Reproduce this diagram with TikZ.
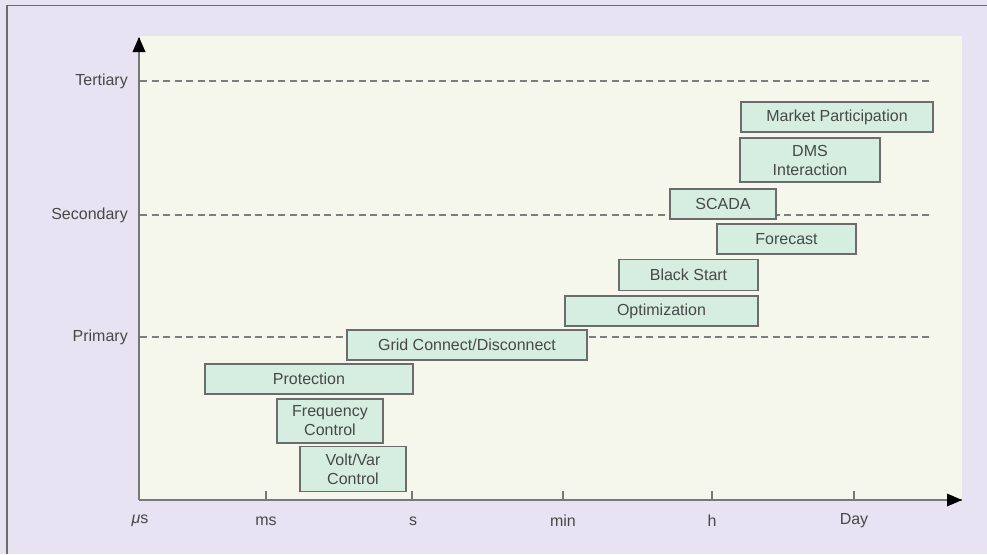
\documentclass[tikz,border=0pt]{standalone}
\usepackage{fontspec}
\setmainfont{Liberation Sans}
\usetikzlibrary{arrows.meta}
\definecolor{bgl}{RGB}{231,227,243}
\definecolor{panel}{RGB}{246,247,236}
\definecolor{mint}{RGB}{214,238,224}
\definecolor{bord}{RGB}{108,108,108}
\definecolor{txt}{RGB}{72,72,72}
\definecolor{axisc}{RGB}{120,120,120}
\definecolor{dashc}{RGB}{125,125,125}
\tikzset{
  box/.style={draw=bord, line width=1.5pt, fill=mint, inner sep=0pt, text=txt,
    font=\fontsize{16pt}{19pt}\selectfont, align=center},
  lvl/.style={text=txt, font=\fontsize{16pt}{19pt}\selectfont, anchor=east, inner sep=0pt},
  tlab/.style={text=txt, font=\fontsize{16pt}{19pt}\selectfont, anchor=center, inner sep=0pt},
  dashline/.style={dashc, line width=1.2pt, dash pattern=on 7pt off 4.5pt},
  axisline/.style={axisc, line width=1.5pt},
  tickline/.style={axisc, line width=1.3pt}
}
\begin{document}
\begin{tikzpicture}[x=1pt,y=-1pt]
\useasboundingbox (0,0) rectangle (987,554);
\fill[bgl] (0,0) rectangle (987,554);
\draw[bord, line width=1.6pt] (7,554) -- (7,5.5) -- (987,5.5);
\fill[panel] (140,36) rectangle (962,500);

% dashed level lines
\coordinate (t0) at (140,81);  \coordinate (t1) at (932,81);
\coordinate (s0) at (140,215); \coordinate (s1) at (932,215);
\coordinate (p0) at (140,337); \coordinate (p1) at (932,337);
\draw[dashline] (t0) -- (t1);
\draw[dashline] (s0) -- (s1);
\draw[dashline] (p0) -- (p1);
\node[lvl] (tert) at (128,81) {Tertiary};
\node[lvl] (sec) at (128,215) {Secondary};
\node[lvl] (prim) at (128,337) {Primary};

% axes
\coordinate (origin) at (139,500);
\coordinate (ytop) at (139,38);
\coordinate (xend) at (962,500);
\draw[axisline] (origin) -- (ytop);
\draw[axisline] (origin) -- (xend);
\fill[black] (139,37) -- (132.5,52) -- (145.5,52) -- cycle;
\fill[black] (962,500) -- (947,493.5) -- (947,506.5) -- cycle;

% ticks
\foreach \x/\n in {266/ms,412/s,563/min,712/h,854/day}{
  \coordinate (tk\n) at (\x,500);
  \draw[tickline] (tk\n) -- ++(0,-9);
}
\node[tlab] (lus) at (140,521) {{\itshape μ}s};
\node[tlab] (lms) at (266,521) {ms};
\node[tlab] (ls) at (413,521) {s};
\node[tlab] (lmin) at (563,521) {min};
\node[tlab] (lh) at (712,521) {h};
\node[tlab] (lday) at (854,521) {Day};

% boxes
\node[box, minimum width=192pt, minimum height=30pt] (mp) at (837,117) {Market Participation};
\node[box, minimum width=140pt, minimum height=44pt] (dms) at (810,160) {DMS\\Interaction};
\node[box, minimum width=106pt, minimum height=30pt] (scada) at (723,204) {SCADA};
\node[box, minimum width=139pt, minimum height=30pt] (fc) at (786.5,239) {Forecast};
\node[box, minimum width=139pt, minimum height=31pt] (bs) at (688.5,275) {Black Start};
\node[box, minimum width=193pt, minimum height=30pt] (opt) at (661.5,311) {Optimization};
\node[box, minimum width=240pt, minimum height=30pt] (grid) at (467,345) {Grid Connect/Disconnect};
\node[box, minimum width=208pt, minimum height=30pt] (prot) at (309,379) {Protection};
\node[box, minimum width=106pt, minimum height=44pt] (freq) at (330,421) {Frequency\\Control};
\node[box, minimum width=106pt, minimum height=45pt] (vv) at (353,469) {Volt/Var\\Control};
\end{tikzpicture}
\end{document}
